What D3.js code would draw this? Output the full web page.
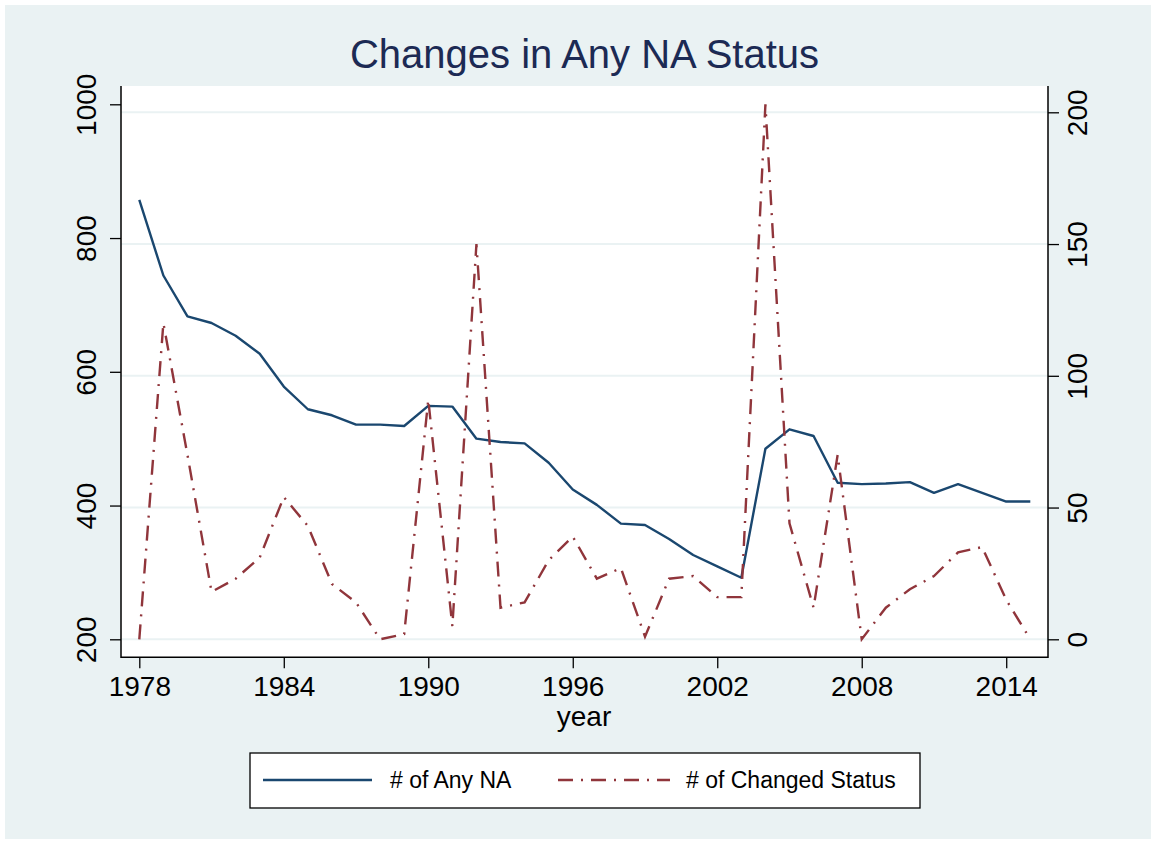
<!DOCTYPE html>
<html>
<head>
<meta charset="utf-8">
<script src="https://cdn.jsdelivr.net/npm/d3@7"></script>
<style>
  body { margin: 0; background: #fff; }
  svg { display: block; font-family: "Liberation Sans", Arial, sans-serif; }
</style>
</head>
<body>
<svg id="chart" width="1156" height="844"></svg>
<script>
// data
let years = d3.range(1978, 2016);
let anyNA = [857, 744, 683, 673, 654, 627, 578, 544, 535, 521, 521, 519, 549, 548,
  500, 495, 493, 464, 424, 401, 373, 371, 350, 326, 309, 292, 485, 514, 504, 434,
  432, 433, 435, 419, 432, 419, 406, 406];
let changed = [0, 120, 70, 18, 23, 31, 54, 43, 21, 14, 0, 2, 91, 5,
  150, 12, 14, 30, 39, 23, 27, 1, 23, 24, 16, 16, 203, 44, 12, 70,
  0, 12, 19, 24, 33, 35, 15, 0];

let xTicks = [1978, 1984, 1990, 1996, 2002, 2008, 2014];
let leftTicks = [200, 400, 600, 800, 1000];
let rightTicks = [0, 50, 100, 150, 200];

const svg = d3.select('#chart');
const plot = { left: 121, right: 1048, top: 86, bottom: 657.3 };

// background
svg.append('rect').attr('x', 5).attr('y', 5).attr('width', 1146).attr('height', 834)
  .attr('fill', '#eaf2f3');
svg.append('rect')
  .attr('x', plot.left).attr('y', plot.top)
  .attr('width', plot.right - plot.left).attr('height', plot.bottom - plot.top)
  .attr('fill', '#fff');

let x = d3.scaleLinear().domain([1978, 2015]).range([139.3, 1030.3]);
let yL = d3.scaleLinear().domain([200, 1000]).range([639.3, 104.3]);
let yR = d3.scaleLinear().domain([0, 200]).range([639.3, 112.3]);

// gridlines (follow the right axis)
svg.append('g').selectAll('line')
  .data(rightTicks)
  .enter()
  .append('line')
  .attr('x1', plot.left).attr('x2', plot.right)
  .attr('y1', d => yR(d)).attr('y2', d => yR(d))
  .attr('stroke', '#eaf2f3').attr('stroke-width', 2);

// axes
function styleAxis(g) {
  g.select('.domain').remove();
  g.selectAll('.tick line').attr('stroke', '#000').attr('stroke-width', 1.3);
  g.selectAll('.tick text').attr('fill', '#000').style('font-size', '28px')
    .style('font-family', '"Liberation Sans", Arial, sans-serif');
}

let gx = svg.append('g')
  .attr('transform', `translate(0,${plot.bottom})`)
  .call(d3.axisBottom(x).tickValues(xTicks).tickFormat(d3.format('d')).tickSize(11).tickSizeOuter(0));
styleAxis(gx);
gx.selectAll('.tick text').attr('y', 39).attr('dy', 0);

let gl = svg.append('g')
  .attr('transform', `translate(${plot.left},0)`)
  .call(d3.axisLeft(yL).tickValues(leftTicks).tickFormat(d3.format('d')).tickSize(11).tickSizeOuter(0));
styleAxis(gl);
gl.selectAll('.tick text')
  .attr('x', 0).attr('dy', 0)
  .attr('text-anchor', 'middle')
  .attr('transform', 'translate(-25,0) rotate(-90)');

let gr = svg.append('g')
  .attr('transform', `translate(${plot.right},0)`)
  .call(d3.axisRight(yR).tickValues(rightTicks).tickFormat(d3.format('d')).tickSize(11).tickSizeOuter(0));
styleAxis(gr);
gr.selectAll('.tick text')
  .attr('x', 0).attr('dy', 0)
  .attr('text-anchor', 'middle')
  .attr('transform', 'translate(39,0) rotate(-90)');

// axis lines
svg.append('path')
  .attr('d', `M${plot.left},${plot.top}V${plot.bottom}H${plot.right}V${plot.top}`)
  .attr('fill', 'none').attr('stroke', '#000').attr('stroke-width', 1.5);

// lines
let lineL = d3.line().x((d, i) => x(years[i])).y(d => yL(d));
let lineR = d3.line().x((d, i) => x(years[i])).y(d => yR(d));

svg.append('path')
  .datum(anyNA)
  .attr('d', lineL)
  .attr('fill', 'none').attr('stroke', '#1a476f').attr('stroke-width', 2.4)
  .attr('stroke-linejoin', 'round');

svg.append('path')
  .datum(changed)
  .attr('d', lineR)
  .attr('fill', 'none').attr('stroke', '#90353b').attr('stroke-width', 2.4)
  .attr('stroke-dasharray', '15,8,2,8');

// title and axis title
svg.append('text')
  .attr('x', 584.5).attr('y', 68)
  .attr('text-anchor', 'middle')
  .attr('fill', '#1c2a54')
  .style('font-size', '40px')
  .text('Changes in Any NA Status');

svg.append('text')
  .attr('x', 584).attr('y', 726)
  .attr('text-anchor', 'middle')
  .attr('fill', '#000')
  .style('font-size', '28px')
  .text('year');

// legend
svg.append('rect')
  .attr('x', 250).attr('y', 753).attr('width', 670).attr('height', 55)
  .attr('fill', '#fff').attr('stroke', '#000').attr('stroke-width', 1.3);

let legendItems = [
  { label: '# of Any NA', color: '#1a476f', dash: null, x1: 263, x2: 372, tx: 390 },
  { label: '# of Changed Status', color: '#90353b', dash: '15,8,2,8', x1: 558, x2: 670, tx: 686 }
];

let lg = svg.append('g').selectAll('g')
  .data(legendItems)
  .enter()
  .append('g');

lg.append('line')
  .attr('x1', d => d.x1).attr('x2', d => d.x2)
  .attr('y1', 780).attr('y2', 780)
  .attr('stroke', d => d.color).attr('stroke-width', 2.4)
  .attr('stroke-dasharray', d => d.dash);

lg.append('text')
  .attr('x', d => d.tx).attr('y', 788)
  .attr('fill', '#000')
  .style('font-size', '23px')
  .text(d => d.label);
</script>
</body>
</html>
